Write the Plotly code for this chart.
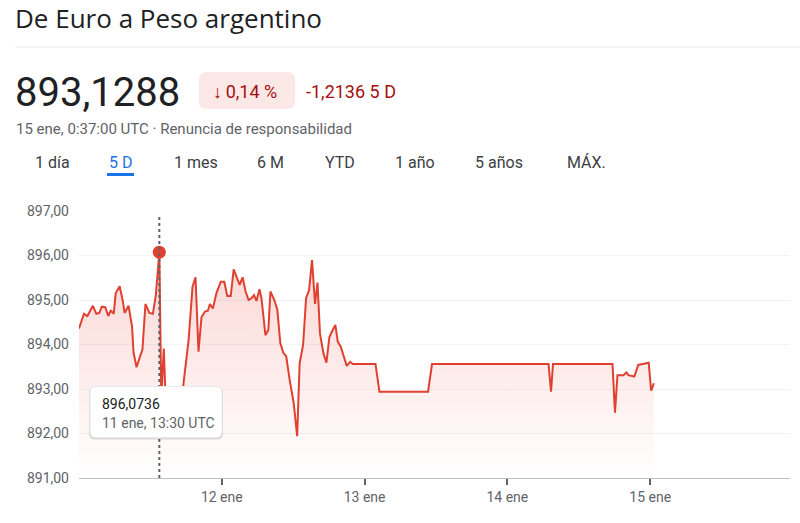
import plotly.graph_objects as go

# Cotización EUR/ARS, 5 días (hora UTC)
times = [
    "2024-01-11 00:00", "2024-01-11 00:50", "2024-01-11 01:25", "2024-01-11 02:20",
    "2024-01-11 02:55", "2024-01-11 03:25", "2024-01-11 03:50", "2024-01-11 04:25",
    "2024-01-11 04:55", "2024-01-11 05:20", "2024-01-11 05:50", "2024-01-11 06:10",
    "2024-01-11 06:50", "2024-01-11 07:20", "2024-01-11 07:40", "2024-01-11 08:20",
    "2024-01-11 08:55", "2024-01-11 09:10", "2024-01-11 09:40", "2024-01-11 10:40",
    "2024-01-11 11:10", "2024-01-11 11:50", "2024-01-11 12:25", "2024-01-11 12:55",
    "2024-01-11 13:30", "2024-01-11 13:50", "2024-01-11 14:15", "2024-01-11 14:35",
    "2024-01-11 16:30", "2024-01-11 17:30", "2024-01-11 18:25", "2024-01-11 19:05",
    "2024-01-11 19:35", "2024-01-11 20:05", "2024-01-11 20:35", "2024-01-11 21:10",
    "2024-01-11 21:40", "2024-01-11 22:00", "2024-01-11 22:30", "2024-01-11 23:05",
    "2024-01-11 23:50", "2024-01-12 00:25", "2024-01-12 00:55", "2024-01-12 01:30",
    "2024-01-12 02:00", "2024-01-12 02:30", "2024-01-12 03:00", "2024-01-12 03:30",
    "2024-01-12 04:00", "2024-01-12 04:30", "2024-01-12 05:00", "2024-01-12 05:25",
    "2024-01-12 05:50", "2024-01-12 06:20", "2024-01-12 06:40", "2024-01-12 07:20",
    "2024-01-12 07:50", "2024-01-12 08:10", "2024-01-12 08:50", "2024-01-12 09:20",
    "2024-01-12 09:50", "2024-01-12 10:20", "2024-01-12 10:50", "2024-01-12 11:25",
    "2024-01-12 12:05", "2024-01-12 12:40", "2024-01-12 13:05", "2024-01-12 13:40",
    "2024-01-12 14:10", "2024-01-12 14:40", "2024-01-12 15:10", "2024-01-12 15:40",
    "2024-01-12 16:05", "2024-01-12 16:30", "2024-01-12 17:05", "2024-01-12 17:35",
    "2024-01-12 18:05", "2024-01-12 18:40", "2024-01-12 19:05", "2024-01-12 19:30",
    "2024-01-12 20:00", "2024-01-12 20:30", "2024-01-12 21:00", "2024-01-12 21:35",
    "2024-01-12 22:00", "2024-01-13 01:50", "2024-01-13 02:30", "2024-01-13 10:40",
    "2024-01-13 11:20", "2024-01-14 06:55", "2024-01-14 07:20", "2024-01-14 07:40",
    "2024-01-14 17:40", "2024-01-14 18:05", "2024-01-14 18:30", "2024-01-14 19:30",
    "2024-01-14 20:00", "2024-01-14 20:20", "2024-01-14 21:20", "2024-01-14 22:00",
    "2024-01-14 23:45", "2024-01-15 00:10", "2024-01-15 00:37",
]
values = [
    894.36, 894.69, 894.64, 894.87,
    894.69, 894.71, 894.85, 894.84,
    894.64, 894.76, 894.69, 895.15,
    895.31, 895.00, 894.71, 894.87,
    894.40, 893.82, 893.49, 893.89,
    894.91, 894.71, 894.69, 895.11,
    896.0736, 892.80, 893.91, 892.70,
    892.60, 893.05, 894.10, 895.30,
    895.51, 893.84, 894.61, 894.74,
    894.76, 894.91, 894.81, 895.15,
    895.41, 895.41, 895.09, 895.09,
    895.69, 895.52, 895.34, 895.51,
    895.19, 895.00, 895.04, 895.11,
    894.98, 895.24, 895.04, 894.21,
    894.33, 895.19, 895.00, 894.78,
    894.03, 893.82, 893.73, 893.20,
    892.68, 891.94, 893.58, 893.99,
    895.04, 895.22, 895.90, 894.91,
    895.39, 894.25, 893.80, 893.59,
    894.17, 894.33, 894.44, 894.06,
    893.95, 893.73, 893.52, 893.61,
    893.56, 893.56, 892.94, 892.94,
    893.56, 893.56, 892.94, 893.56,
    893.56, 892.47, 893.31, 893.31,
    893.37, 893.31, 893.28, 893.54,
    893.59, 892.96, 893.1288,
]

y_ticks = [891, 892, 893, 894, 895, 896, 897]
x_tick_dates = ["2024-01-12", "2024-01-13", "2024-01-14", "2024-01-15"]
x_tick_labels = ["12 ene", "13 ene", "14 ene", "15 ene"]

hover_time = "2024-01-11 13:30"
hover_value = 896.0736
hover_label = "11 ene, 13:30 UTC"

tabs = ["1 día", "5 D", "1 mes", "6 M", "YTD", "1 año", "5 años", "MÁX."]
active_tab = "5 D"

RED = "#e0402f"
FONT = "Roboto, Arial, sans-serif"

W, H = 800, 523
L, R, T, B = 79, 10, 211, 45


def px(x):
    """page pixel x -> paper x"""
    return (x - L) / (W - L - R)


def py(y):
    """page pixel y -> paper y"""
    return (H - B - y) / (H - T - B)


def rounded(w, h, r):
    """rounded rectangle path centred on the anchor (pixel units)"""
    x0, x1, y0, y1 = -w / 2, w / 2, -h / 2, h / 2
    return (f"M{x0 + r},{y0} L{x1 - r},{y0} Q{x1},{y0} {x1},{y0 + r} "
            f"L{x1},{y1 - r} Q{x1},{y1} {x1 - r},{y1} L{x0 + r},{y1} "
            f"Q{x0},{y1} {x0},{y1 - r} L{x0},{y0 + r} Q{x0},{y0} {x0 + r},{y0} Z")


fig = go.Figure()
fig.add_trace(go.Scatter(
    x=times, y=values, mode="lines",
    line=dict(color=RED, width=2),
    fill="tozeroy",
    fillgradient=dict(type="vertical", start=891, stop=896.2,
                      colorscale=[[0, "rgba(234,67,53,0.0)"],
                                  [1, "rgba(234,67,53,0.22)"]]),
    hoverinfo="skip",
))
fig.add_trace(go.Scatter(
    x=[hover_time], y=[hover_value], mode="markers",
    marker=dict(color=RED, size=13), hoverinfo="skip",
))

shapes = [
    # dotted hover line
    dict(type="line", xref="x", yref="y", x0=hover_time, x1=hover_time,
         y0=891, y1=896.92, line=dict(color="#5f6368", width=2, dash="dot"),
         layer="above"),
    # divider under the title
    dict(type="line", xref="paper", yref="paper", x0=px(15), x1=px(800),
         y0=py(47), y1=py(47), line=dict(color="#e8eaed", width=1)),
    # change badge
    dict(type="path", xref="paper", yref="paper", xsizemode="pixel",
         ysizemode="pixel", xanchor=px(247), yanchor=py(90.5),
         path=rounded(96, 37, 8), fillcolor="#fce8e6", line=dict(width=0)),
    # active tab underline
    dict(type="line", xref="paper", yref="paper", x0=px(107), x1=px(134),
         y0=py(174.5), y1=py(174.5), line=dict(color="#1a73e8", width=3)),
    # tooltip shadow + box
    dict(type="path", xref="paper", yref="paper", xsizemode="pixel",
         ysizemode="pixel", xanchor=px(156), yanchor=py(413.5),
         path=rounded(134, 52, 6), fillcolor="rgba(60,64,67,0.18)",
         line=dict(width=0), layer="above"),
    dict(type="path", xref="paper", yref="paper", xsizemode="pixel",
         ysizemode="pixel", xanchor=px(156), yanchor=py(412),
         path=rounded(132, 51, 6), fillcolor="white",
         line=dict(color="#e8eaed", width=1), layer="above"),
]

annotations = [
    dict(text="De Euro a Peso argentino", x=px(13), y=py(18),
         font=dict(family="Open Sans, sans-serif", size=26, color="#202124")),
    dict(text="893,1288", x=px(13), y=py(92),
         font=dict(size=40, color="#202124")),
    dict(text="↓\u20090,14 %", x=px(211), y=py(91),
         font=dict(size=18, color="#a50e0e")),
    dict(text="-1,2136 5 D", x=px(304), y=py(91),
         font=dict(size=18, color="#a50e0e")),
    dict(text="15 ene, 0:37:00 UTC · Renuncia de responsabilidad",
         x=px(14), y=py(129), font=dict(size=15, color="#5f6368")),
    dict(text="896,0736", x=px(100), y=py(404),
         font=dict(size=14, color="#202124")),
    dict(text=hover_label, x=px(100), y=py(423),
         font=dict(size=14, color="#5f6368")),
]
tab_left = [33, 107, 172, 255, 323, 393, 473, 565]
for name, x in zip(tabs, tab_left):
    annotations.append(dict(
        text=name, x=px(x), y=py(162),
        font=dict(size=16, color="#1a73e8" if name == active_tab else "#3c4043")))
for a in annotations:
    a.update(xref="paper", yref="paper", xanchor="left", yanchor="middle",
             showarrow=False)

fig.update_layout(
    width=W, height=H,
    margin=dict(l=L, r=R, t=T, b=B),
    paper_bgcolor="white", plot_bgcolor="white",
    showlegend=False, hovermode=False,
    separators=",.",
    font=dict(family=FONT, color="#5f6368"),
    shapes=shapes, annotations=annotations,
    xaxis=dict(
        range=["2024-01-11 00:00", "2024-01-15 23:30"],
        tickvals=x_tick_dates, ticktext=x_tick_labels,
        showgrid=False, zeroline=False,
        showline=True, linecolor="#bdc1c6", linewidth=1,
        ticks="outside", ticklen=6, tickwidth=2, tickcolor="#5f6368",
        tickfont=dict(size=14, color="#5f6368"),
    ),
    yaxis=dict(
        range=[891, 897], tickvals=y_ticks, tickformat=".2f",
        showgrid=True, gridcolor="#f1f3f4", gridwidth=1, zeroline=False,
        showline=False, ticks="", ticklabelstandoff=9,
        tickfont=dict(size=14, color="#5f6368"),
    ),
)

# drop the default body margin so the figure sits at the page corner
fig.write_html("out.html", config={"displayModeBar": False},
               post_script="document.body.style.margin = '0';")
